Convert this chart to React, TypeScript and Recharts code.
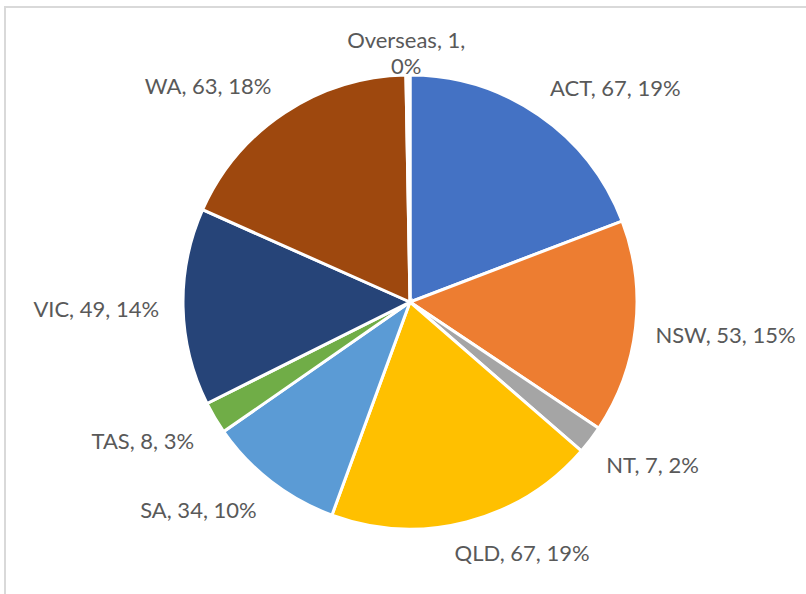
import React from 'react';
import { PieChart, Pie, Cell } from 'recharts';

// slices in drawing order, clockwise from 12 o'clock
const regions = ['ACT', 'NSW', 'NT', 'QLD', 'SA', 'TAS', 'VIC', 'WA', 'Overseas'];
const counts = [67, 53, 7, 67, 34, 8, 49, 63, 1];
// percentages as printed on the chart labels
const shares = [19, 15, 2, 19, 10, 3, 14, 18, 0];

const sliceColors = ['#4472C4', '#ED7D31', '#A5A5A5', '#FFC000', '#5B9BD5', '#70AD47', '#264478', '#9E480E', '#FFFFFF'];

const data = regions.map((name, i) => ({ name, value: counts[i], share: shares[i] }));

const FONT_FAMILY = 'Lato, "Open Sans", sans-serif';
const FONT_SIZE = 22;
const LINE_HEIGHT = 26;
const MAX_LABEL_WIDTH = 150;
const GAP = 18;

let measureCtx: CanvasRenderingContext2D | null = null;
const textWidth = (s: string) => {
    if (!measureCtx) {
        measureCtx = document.createElement('canvas').getContext('2d');
    }
    if (!measureCtx) return s.length * FONT_SIZE * 0.5;
    measureCtx.font = `${FONT_SIZE}px Lato`;
    return measureCtx.measureText(s).width;
};

const clamp = (v: number) => Math.max(-1, Math.min(1, v));

const renderLabel = (props: any) => {
    const { cx, cy, midAngle, outerRadius, index } = props;
    const d = data[index];
    const full = `${d.name}, ${d.value}, ${d.share}%`;
    let lines = [full];
    if (textWidth(full) > MAX_LABEL_WIDTH) {
        lines = [`${d.name}, ${d.value},`, `${d.share}%`];
    }
    const w = Math.max(...lines.map(textWidth));
    const wrapped = lines.length > 1;

    const rad = (midAngle * Math.PI) / 180;
    const ux = Math.cos(rad);
    const uy = -Math.sin(rad);
    const g = wrapped ? 10 : GAP;
    // labels on the left sit a bit further out, as in Excel
    const gx = ux < 0 ? g + 6 : g + 2;
    const px = cx + (outerRadius + gx) * ux;
    const py = cy + (outerRadius + g) * uy;

    const hx = (w / 2) * clamp(ux * 3);
    const hy = (LINE_HEIGHT / 2) * clamp(uy * 3);
    const centerX = px + hx;
    const centerY = py + hy;
    const firstY = centerY - ((lines.length - 1) * LINE_HEIGHT) / 2;

    return (
        <text
            key={`lbl-${index}`}
            x={centerX}
            y={firstY}
            textAnchor="middle"
            dominantBaseline="central"
            fill="#595959"
            fontFamily={FONT_FAMILY}
            fontSize={FONT_SIZE}
        >
            {lines.map((ln, i) => (
                <tspan key={i} x={centerX} y={firstY + i * LINE_HEIGHT}>
                    {ln}
                </tspan>
            ))}
        </text>
    );
};

const App = () => {
    return (
        <div style={{ position: 'absolute', left: 0, top: 0, width: 806, height: 594, background: '#ffffff', overflow: 'hidden' }}>
            <div
                style={{
                    position: 'absolute',
                    left: 4,
                    top: 6,
                    width: 900,
                    height: 700,
                    borderTop: '2px solid #D9D9D9',
                    borderLeft: '2px solid #D9D9D9',
                }}
            />
            <div style={{ position: 'absolute', left: 0, top: 0 }}>
                <PieChart width={806} height={594} margin={{ top: 0, right: 0, bottom: 0, left: 0 }}>
                    <Pie
                        data={data}
                        dataKey="value"
                        nameKey="name"
                        cx={410}
                        cy={302}
                        outerRadius={227}
                        startAngle={90}
                        endAngle={-270}
                        stroke="#ffffff"
                        strokeWidth={3}
                        label={renderLabel}
                        labelLine={false}
                        isAnimationActive={false}
                    >
                        {data.map((entry, i) => (
                            <Cell key={entry.name} fill={sliceColors[i]} />
                        ))}
                    </Pie>
                </PieChart>
            </div>
        </div>
    );
};

export default App;
